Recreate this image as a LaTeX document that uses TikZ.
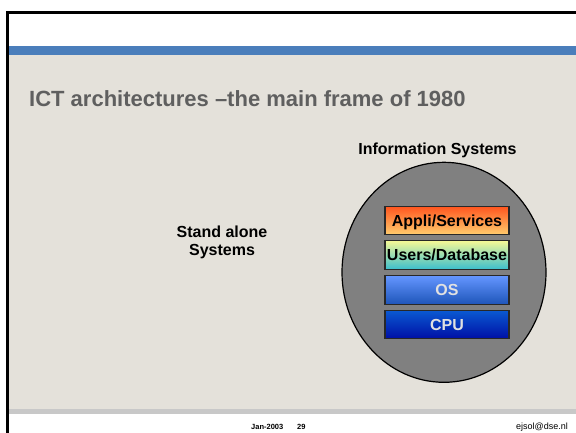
\documentclass[tikz,border=0pt]{standalone}
\usepackage{fontspec}
\setmainfont{Liberation Sans}
\usepackage{tikz}
\usetikzlibrary{shapes.geometric}

\definecolor{slidebg}{RGB}{228,225,218}
\definecolor{bandblue}{RGB}{74,126,187}
\definecolor{footline}{RGB}{200,200,200}
\definecolor{titlegrey}{RGB}{95,95,95}
\definecolor{layertext}{RGB}{225,225,225}

\begin{document}
\begin{tikzpicture}[x=1pt,y=-1pt,
  layer/.style={draw={rgb,255:red,40;green,40;blue,40},line width=1.2pt,
    minimum width=124pt,minimum height=28.5pt,inner sep=0pt,
    text height=11.5pt,text depth=0pt,
    font=\bfseries\fontsize{16}{18}\selectfont},
  label/.style={inner sep=0pt,font=\bfseries\fontsize{16}{18}\selectfont}]
  \useasboundingbox (0,0) rectangle (576,433);
  \fill[white] (0,0) rectangle (576,433);
  \fill[slidebg] (7.5,55) rectangle (576,409);
  \fill[bandblue] (7.5,46) rectangle (576,55);
  \fill[footline] (7.5,409) rectangle (576,414);
  \draw[line width=3pt] (7.5,433) -- (7.5,12.5) -- (576,12.5);

  \node[anchor=base west,inner sep=0pt,text=titlegrey,
    font=\bfseries\fontsize{22}{26}\selectfont] (title) at (29,106.7)
    {ICT architectures --the main frame of 1980};

  \node[label,align=center] (standalone) at (222,242.5) {Stand alone\\Systems};

  \node[draw,line width=1.2pt,fill=gray,ellipse,minimum width=204pt,
    minimum height=220pt,inner sep=0pt] (infosys) at (444,272.3) {};
  \node[label,anchor=base] (infolabel) at (437.5,155) {Information Systems};

  \node[layer,top color={rgb,255:red,255;green,85;blue,30},
    bottom color={rgb,255:red,255;green,205;blue,110}] (appli) at (447,220.5) {Appli/Services};
  \node[layer,top color={rgb,255:red,245;green,248;blue,150},
    bottom color={rgb,255:red,60;green,192;blue,205}] (users) at (447,255) {Users/Database};
  \node[layer,text=layertext,top color={rgb,255:red,100;green,150;blue,255},
    bottom color={rgb,255:red,30;green,85;blue,185}] (os) at (447,290) {OS};
  \node[layer,text=layertext,top color={rgb,255:red,10;green,90;blue,210},
    bottom color={rgb,255:red,0;green,15;blue,165}] (cpu) at (447,324.5) {CPU};

  \node[anchor=base west,inner sep=0pt,font=\bfseries\fontsize{7.5}{9}\selectfont]
    (date) at (251,429) {Jan-2003};
  \node[anchor=base west,inner sep=0pt,font=\bfseries\fontsize{7.5}{9}\selectfont]
    (page) at (297,429) {29};
  \node[anchor=base west,inner sep=0pt,font=\fontsize{9}{11}\selectfont]
    (mail) at (516,429) {ejsol@dse.nl};
\end{tikzpicture}
\end{document}
